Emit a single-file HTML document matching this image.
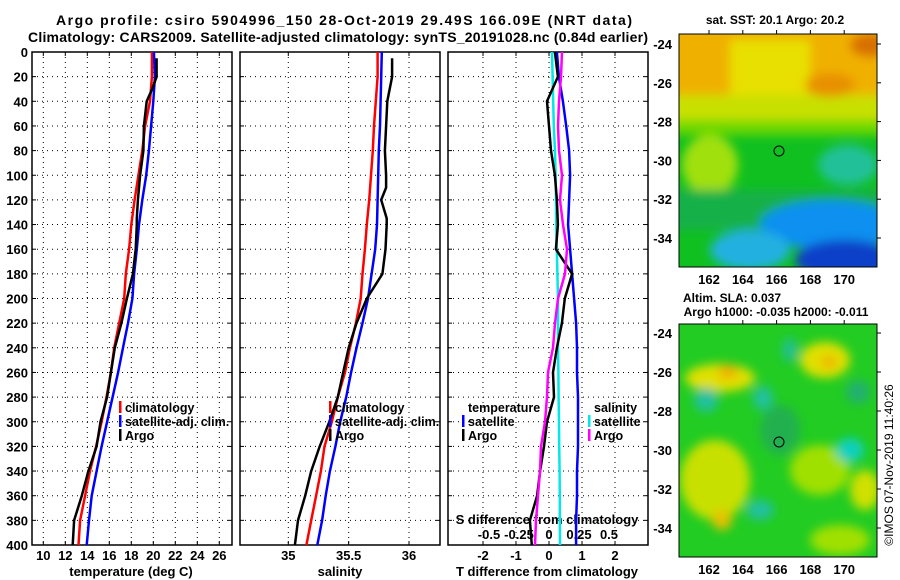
<!DOCTYPE html>
<html><head><meta charset="utf-8"><style>
body{margin:0;background:#fff;width:900px;height:580px;overflow:hidden}
svg{display:block;font-family:"Liberation Sans",sans-serif;font-weight:bold}
</style></head><body>
<svg id="fig" width="900" height="580" viewBox="0 0 900 580">
<defs>
<filter id="bl" x="-10%" y="-10%" width="120%" height="120%"><feGaussianBlur stdDeviation="5"/></filter>
<clipPath id="c1"><rect x="679" y="34" width="198" height="233"/></clipPath>
<clipPath id="c2"><rect x="679" y="324" width="198" height="233"/></clipPath>
</defs>
<text x="344" y="25" font-size="14" text-anchor="middle" textLength="576">Argo profile: csiro 5904996_150 28-Oct-2019 29.49S 166.09E (NRT data)</text>
<text x="338" y="42" font-size="14" text-anchor="middle" textLength="620">Climatology: CARS2009. Satellite-adjusted climatology: synTS_20191028.nc (0.84d earlier)</text>

<g clip-path="url(#c1)">
<rect x="679" y="34" width="198" height="233" fill="#10c020"/>
<g filter="url(#bl)">
<rect x="670" y="25" width="220" height="80" fill="#f0b000"/>
<rect x="730" y="40" width="80" height="70" fill="#e8e000"/>
<rect x="670" y="95" width="220" height="30" fill="#c8e000"/>
<rect x="670" y="120" width="220" height="15" fill="#70d800"/>
<ellipse cx="710" cy="165" rx="28" ry="30" fill="#a0e010"/>
<ellipse cx="848" cy="165" rx="30" ry="20" fill="#20c098"/>
<rect x="670" y="190" width="220" height="40" fill="#18b048"/>
<ellipse cx="830" cy="225" rx="70" ry="25" fill="#1090f0"/>
<ellipse cx="750" cy="250" rx="40" ry="20" fill="#20b0e0"/>
<ellipse cx="845" cy="260" rx="50" ry="20" fill="#1040c8"/>
<ellipse cx="870" cy="45" rx="20" ry="12" fill="#d87000"/>
<ellipse cx="830" cy="85" rx="25" ry="12" fill="#e89000"/>
</g>
</g>
<rect x="679" y="34" width="198" height="233" fill="none" stroke="#000"/>
<circle cx="779" cy="151" r="5" fill="none" stroke="#000"/>
<text x="775" y="24" font-size="12" text-anchor="middle">sat. SST: 20.1 Argo: 20.2</text>

<g clip-path="url(#c2)">
<rect x="679" y="324" width="198" height="233" fill="#22cc22"/>
<g filter="url(#bl)">
<ellipse cx="720" cy="378" rx="35" ry="14" fill="#e0e000"/>
<ellipse cx="728" cy="372" rx="10" ry="7" fill="#f0b000"/>
<ellipse cx="825" cy="360" rx="25" ry="18" fill="#e0e000"/>
<ellipse cx="829" cy="362" rx="8" ry="6" fill="#f0b000"/>
<ellipse cx="715" cy="480" rx="35" ry="40" fill="#c8e000"/>
<ellipse cx="722" cy="520" rx="10" ry="10" fill="#e8c000"/>
<ellipse cx="865" cy="490" rx="15" ry="20" fill="#d0e000"/>
<ellipse cx="820" cy="470" rx="30" ry="25" fill="#a0e000"/>
<ellipse cx="840" cy="540" rx="30" ry="15" fill="#a0e000"/>
<ellipse cx="706" cy="400" rx="12" ry="12" fill="#20c0a0"/>
<ellipse cx="763" cy="398" rx="10" ry="12" fill="#20c0a0"/>
<ellipse cx="850" cy="450" rx="14" ry="12" fill="#10d0c0"/>
<ellipse cx="760" cy="510" rx="14" ry="10" fill="#20c0a0"/>
<ellipse cx="790" cy="350" rx="8" ry="12" fill="#20c090"/>
<ellipse cx="858" cy="392" rx="12" ry="12" fill="#20b070"/>
<ellipse cx="780" cy="430" rx="20" ry="25" fill="#20b050"/>
</g>
</g>
<rect x="679" y="324" width="198" height="233" fill="none" stroke="#000"/>
<circle cx="779" cy="442" r="5" fill="none" stroke="#000"/>
<text x="732" y="302" font-size="12" text-anchor="middle">Altim. SLA: 0.037</text>
<text x="776" y="316" font-size="12" text-anchor="middle">Argo h1000: -0.035 h2000: -0.011</text>
<text transform="translate(893,465) rotate(-90)" font-size="12" text-anchor="middle" font-weight="normal">©IMOS 07-Nov-2019 11:40:26</text>
</svg>
<script>
const depths=[0,20,40,60,80,100,120,140,160,180,200,220,240,260,280,300,320,340,360,380,400];
const tClim=[19.87,19.87,19.7,19.25,19.0,18.65,18.3,18.0,17.8,17.5,17.35,16.9,16.45,16.15,15.75,15.3,14.8,14.25,13.8,13.35,13.2];
const tSat=[20.05,20.15,20.0,19.8,19.6,19.35,19.0,18.7,18.5,18.25,18.1,17.7,17.25,16.8,16.3,15.8,15.3,14.85,14.4,14.15,13.95];
const argoDepths=[5,20,30,40,60,80,100,110,120,135,140,160,180,200,220,240,260,280,300,320,340,360,380,400];
const tArgo=[20.3,20.3,19.9,19.4,19.15,19.1,18.8,18.7,18.6,18.5,18.5,18.4,18.15,17.6,17.1,16.5,16.15,15.8,15.2,14.85,14.1,13.5,12.8,12.67];
const sClim=[35.74,35.74,35.725,35.71,35.70,35.685,35.67,35.65,35.635,35.615,35.60,35.56,35.51,35.47,35.41,35.36,35.30,35.27,35.23,35.19,35.15];
const sSat=[35.775,35.77,35.765,35.76,35.75,35.745,35.74,35.735,35.72,35.69,35.66,35.615,35.565,35.52,35.48,35.43,35.39,35.345,35.31,35.28,35.24];
const sArgo=[35.86,35.86,35.84,35.82,35.81,35.80,35.81,35.81,35.77,35.815,35.815,35.805,35.78,35.65,35.565,35.50,35.455,35.41,35.34,35.26,35.19,35.14,35.08,35.055];
const dTSat=[0.24,0.3,0.42,0.52,0.61,0.64,0.61,0.58,0.64,0.7,0.76,0.82,0.85,0.85,0.88,0.88,0.88,0.85,0.85,0.82,0.82];
const dSSat=[0.025,0.03,0.035,0.04,0.05,0.055,0.058,0.06,0.065,0.07,0.075,0.075,0.075,0.078,0.08,0.083,0.085,0.088,0.09,0.09,0.092];
const dTArgo=[0.18,0.27,-0.06,0,0.06,0.18,0.24,0.27,0.21,0.7,0.48,0.39,0.24,0.12,0.15,-0.06,-0.15,-0.27,-0.36,-0.58,-0.52];
const dSArgo=[0.108,0.1,0.083,0.075,0.083,0.108,0.092,0.117,0.15,0.133,0.075,0.05,0.033,-0.008,-0.017,-0.033,-0.067,-0.075,-0.092,-0.108,-0.117];
const tTicks=[10,12,14,16,18,20,22,24,26];
const sTicks=[35,35.5,36];
const dTTicks=[-2,-1,0,1,2];
const dSTicks=[-0.5,-0.25,0,0.25,0.5];
const depthTicks=[0,20,40,60,80,100,120,140,160,180,200,220,240,260,280,300,320,340,360,380,400];
const latTicks=[-24,-26,-28,-30,-32,-34];
const lonTicks=[162,164,166,168,170];

const NS='http://www.w3.org/2000/svg';
const svg=document.getElementById('fig');
const Y0=52,Y1=545;
const yD=d=>Y0+d*(Y1-Y0)/400;
const xT=v=>43.3+(v-10)*11;
const xS=v=>288.3+(v-35)*120.7;
const xDT=v=>549+v*33;
const xDS=v=>549+v*120;
const panels=[[32,232],[240,440],[448,648]];
function el(tag,at,parent){const e=document.createElementNS(NS,tag);for(const k in at)e.setAttribute(k,at[k]);(parent||svg).appendChild(e);return e;}
function txt(x,y,s,size,anchor,parent){const t=el('text',{x:x,y:y,'font-size':size,'text-anchor':anchor||'middle'},parent);t.textContent=s;return t;}

panels.forEach((p,i)=>{
  const g=el('g',{});
  
  
  depthTicks.forEach(d=>{if(d>0&&d<400){const l=el('line',{x1:p[0],x2:p[1],y1:yD(d),y2:yD(d),stroke:'#000','stroke-width':1,'stroke-dasharray':'1 4'},g);
    
    }
    el('line',{x1:p[0],x2:p[0]+4,y1:yD(d),y2:yD(d),stroke:'#000'},g);
    el('line',{x1:p[1]-4,x2:p[1],y1:yD(d),y2:yD(d),stroke:'#000'},g);});
  el('rect',{x:p[0],y:Y0,width:p[1]-p[0],height:Y1-Y0,fill:'none',stroke:'#000','stroke-width':1.5},g);
});
depthTicks.forEach(d=>{const t=txt(28,yD(d)+5,String(d),13,'end');
  
  });
function vgrid(ticks,fx,label){ticks.forEach(v=>{const x=fx(v);
  const l=el('line',{x1:x,x2:x,y1:Y0,y2:Y1,stroke:'#000','stroke-dasharray':'1 4'});
  
  
  el('line',{x1:x,x2:x,y1:Y0,y2:Y0+4,stroke:'#000'});
  el('line',{x1:x,x2:x,y1:Y1-4,y2:Y1,stroke:'#000'});
  if(label){const t=txt(x,560,String(v),13);
  
  }});}
vgrid(tTicks,xT,true);vgrid(sTicks,xS,true);vgrid(dTTicks,xDT,true);
dSTicks.forEach(v=>{const t=txt(xDS(v),539,String(v),13);
  
  });
let a=txt(131,576,'temperature (deg C)',13);
a=txt(340,576,'salinity',13);
a=txt(547,576,'T difference from climatology',13);
a=txt(547,524,'S difference from climatology',13);

function line(vals,ds,fx,color,name){
  const pts=vals.map((v,i)=>fx(v).toFixed(1)+','+yD(ds[i]).toFixed(1)).join(' ');
  const pl=el('polyline',{points:pts,fill:'none',stroke:color,'stroke-width':2.5,'stroke-linejoin':'round'});
  
  
}
line(tClim,depths,xT,'#f00','temp-climatology-line');
line(tSat,depths,xT,'#00f','temp-satellite-line');
line(tArgo,argoDepths,xT,'#000','temp-argo-line');
line(sClim,depths,xS,'#f00','sal-climatology-line');
line(sSat,depths,xS,'#00f','sal-satellite-line');
line(sArgo,argoDepths,xS,'#000','sal-argo-line');
line(dSSat,depths,xDS,'#00e8e8','s-diff-satellite-line');
line(dTSat,depths,xDT,'#00f','t-diff-satellite-line');
line(dTArgo,depths,xDT,'#000','t-diff-argo-line');
line(dSArgo,depths,xDS,'#f0f','s-diff-argo-line');

function legend(x,y,color,label){
  const g=el('g',{});
  
  
  if(color) el('rect',{x:x-6,y:y-11,width:2.5,height:12,fill:color},g);
  txt(x,y,label,12.5,'start',g);
}
legend(125,412,'#f00','climatology');legend(125,426,'#00f','satellite-adj. clim.');legend(125,440,'#000','Argo');
legend(335,412,'#f00','climatology');legend(335,426,'#00f','satellite-adj. clim.');legend(335,440,'#000','Argo');
legend(468,412,null,'temperature');legend(468,426,'#00f','satellite');legend(468,440,'#000','Argo');
legend(594,412,null,'salinity');legend(594,426,'#00e8e8','satellite');legend(594,440,'#f0f','Argo');

function mapAxes(top,bot,lat0,lat1){
  latTicks.forEach(v=>{const y=lat0+(v+24)*(lat1-lat0)/(-10);
    const t=txt(672,y+5,String(v),13,'end');
    
    
    el('line',{x1:877,x2:881,y1:y,y2:y,stroke:'#000'});});
  lonTicks.forEach(v=>{const x=709+(v-162)*16.9;
    const t=txt(x,bot+17,String(v),13);
    
    
    el('line',{x1:x,x2:x,y1:top-4,y2:top,stroke:'#000'});});
}
mapAxes(34,267,44,238);
mapAxes(324,557,333,528);
</script>
</body></html>
